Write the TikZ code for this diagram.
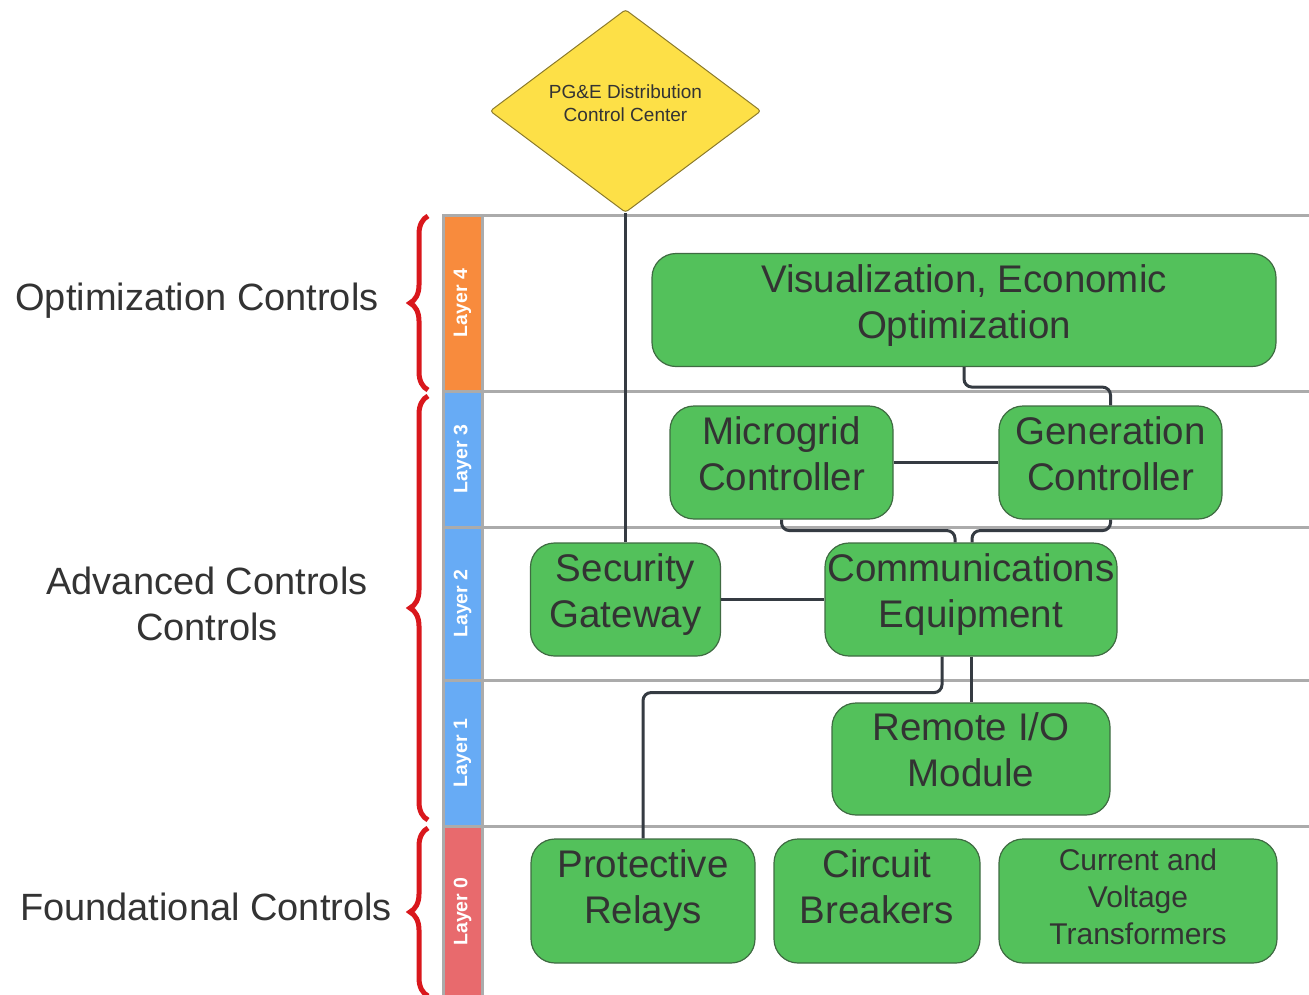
\documentclass[tikz,border=0pt]{standalone}
\usepackage{fontspec}
\setmainfont{Liberation Sans}
\usetikzlibrary{shapes.geometric,decorations.pathreplacing}
\definecolor{boxgreen}{HTML}{53C15B}
\definecolor{boxedge}{HTML}{3F6B42}
\definecolor{txtgray}{HTML}{333333}
\definecolor{conngray}{HTML}{353B42}
\definecolor{lanegray}{HTML}{ABABAB}
\definecolor{ccyellow}{HTML}{FDE047}
\definecolor{ccedge}{HTML}{8C7B2C}
\definecolor{layerorange}{HTML}{F88B3D}
\definecolor{layerblue}{HTML}{67ABF5}
\definecolor{layerred}{HTML}{E86A6D}
\definecolor{bracered}{HTML}{D9171C}

\begin{document}
\begin{tikzpicture}[x=1pt,y=-1pt,
  block/.style={rectangle,rounded corners=24pt,draw=boxedge,line width=1.2pt,fill=boxgreen,text=txtgray,align=center,inner sep=0pt,text height=84.6pt,font=\fontsize{38.5}{46}\selectfont},
  conn/.style={-,draw=conngray,line width=3pt,rounded corners=8pt},
  lane/.style={draw=lanegray,line width=3pt},
  grp/.style={align=center,text=txtgray,font=\fontsize{38}{46}\selectfont},
  grpbrace/.style={draw=bracered,line width=5pt,decorate,decoration={brace,amplitude=18pt}}]
\useasboundingbox (0,0) rectangle (1309,994);
% \draw[help lines,step=100] (0,0) grid (1309,994);
\foreach \ya/\yb/\num/\col in {215/391/4/layerorange,391/527/3/layerblue,527/680/2/layerblue,680/826/1/layerblue,826/997/0/layerred}{
  \fill[\col] (443,\ya) rectangle (482,\yb);
  \draw[lane] (443,\ya) rectangle (1312,\yb);
  \draw[lane] (482,\ya) -- (482,\yb);
  \node (layer\num) [rotate=90,text=white,font=\fontsize{19.5}{19.5}\selectfont\bfseries] at (462.5,{(\ya+\yb)/2}) {Layer \num};
}
%
\node (ccc) [diamond,draw=ccedge,line width=1pt,fill=ccyellow,text=txtgray,align=center,inner sep=0pt,minimum width=271pt,minimum height=203pt,rounded corners=3pt,text height=31.6pt,text depth=10pt,font=\fontsize{19}{23}\selectfont] at (625.5,111) {PG\&E Distribution\\Control Center};
\node (vis) [block,minimum width=624pt,minimum height=113pt,text depth=28.4pt] at (964,310) {Visualization, Economic\\Optimization};
\node (mgc) [block,minimum width=223pt,minimum height=113pt,text depth=28.4pt] at (781.5,462.5) {Microgrid\\Controller};
\node (gen) [block,minimum width=223pt,minimum height=113pt,text depth=28.4pt] at (1110.5,462.5) {Generation\\Controller};
\node (sec) [block,minimum width=190pt,minimum height=113pt,text depth=28.4pt] at (625.5,599.5) {Security\\Gateway};
\node (com) [block,minimum width=292pt,minimum height=113pt,text depth=28.4pt] at (971,599.5) {Communications\\Equipment};
\node (rio) [block,minimum width=278pt,minimum height=112pt,text height=83.6pt,text depth=28.4pt] at (971,759) {Remote I/O\\Module};
\node (pr) [block,minimum width=224pt,minimum height=124pt,text depth=39.4pt] at (643,901) {Protective\\Relays};
\node (cb) [block,minimum width=206pt,minimum height=124pt,text depth=39.4pt] at (877,901) {Circuit\\Breakers};
\node (cvt) [block,minimum width=278pt,minimum height=124pt,text height=105.7pt,text depth=18.3pt,font=\fontsize{30}{37}\selectfont] at (1138,901) {Current and\\Voltage\\Transformers};
%
\node (opt) [grp] at (197,301) {Optimization Controls};
\node (adv) [grp] at (207,604) {Advanced Controls\\Controls};
\node (fnd) [grp] at (206,907) {Foundational Controls};
\draw[grpbrace] (428,390) -- (428,216);
\draw[grpbrace] (428,820) -- (428,396);
\draw[grpbrace] (428,996) -- (428,828);
%
\draw[conn] (ccc.south) -- (sec.north);
\draw[conn] (vis.south) -- ++(0,20) -| (gen.north);
\draw[conn] (mgc.east) -- (gen.west);
\draw[conn] (mgc.south) -- ++(0,11) -| ([xshift=-16pt]com.north);
\draw[conn] (gen.south) -- ++(0,11) -| ([xshift=1pt]com.north);
\draw[conn] (sec.east) -- (com.west);
\draw[conn] ([xshift=-29pt]com.south) -- ++(0,36) -| (pr.north);
\draw[conn] (com.south) -- (rio.north);
\end{tikzpicture}
\end{document}
